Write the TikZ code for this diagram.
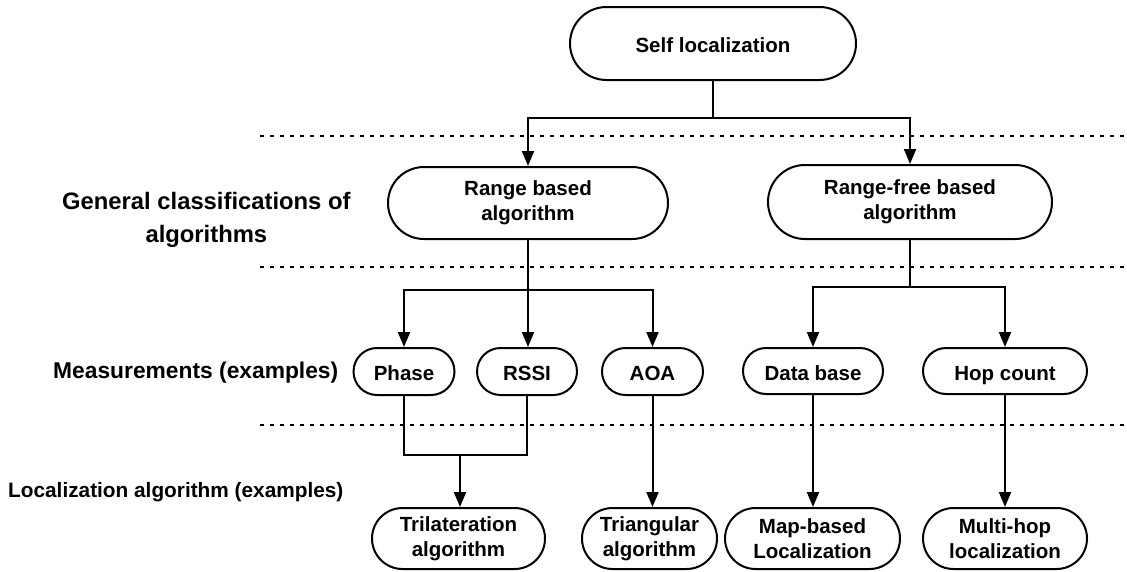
\documentclass[tikz,border=0pt]{standalone}
\usepackage{fontspec}
\setmainfont{Liberation Sans}
\usetikzlibrary{arrows.meta,positioning,calc,shapes.misc}
\begin{document}
\begin{tikzpicture}[x=1pt,y=-1pt,
  box/.style={draw,line width=2pt,rounded rectangle,inner sep=0pt,align=center,
    font=\fontsize{20.5}{25}\selectfont\bfseries},
  one/.style={text height=21pt,text depth=2.5pt},
  lab/.style={anchor=west,align=center,inner sep=0pt,font=\fontsize{23}{33}\selectfont\bfseries},
  conn/.style={line width=2pt},
  arr/.style={line width=2pt,-{Triangle[length=15pt,width=12pt]}},
  sep/.style={line width=2pt,dash pattern=on 4pt off 6pt}]
\useasboundingbox (0,0) rectangle (1127,571);
% separators
\draw[sep] (260,136) -- (1127,136);
\draw[sep] (260,267) -- (1127,267);
\draw[sep] (260,425) -- (1127,425);
% nodes
\node[box,one,minimum width=286pt,minimum height=73pt] (self) at (713,43.5) {Self localization};
\node[box,minimum width=280pt,minimum height=72pt] (rb) at (528,203) {Range based\\algorithm};
\node[box,minimum width=284pt,minimum height=74pt] (rf) at (910,202) {Range-free based\\algorithm};
\node[box,one,minimum width=101pt,minimum height=47pt] (phase) at (404,371.5) {Phase};
\node[box,one,minimum width=100pt,minimum height=47pt] (rssi) at (527,371.5) {RSSI};
\node[box,one,minimum width=101pt,minimum height=47pt] (aoa) at (652.5,371.5) {AOA};
\node[box,one,minimum width=140pt,minimum height=46pt] (db) at (813,371) {Data base};
\node[box,one,minimum width=164pt,minimum height=46pt] (hop) at (1005,371) {Hop count};
\node[box,minimum width=173pt,minimum height=61pt] (tri) at (458.5,538.5) {Trilateration\\algorithm};
\node[box,minimum width=135pt,minimum height=61pt] (triang) at (649.5,538.5) {Triangular\\algorithm};
\node[box,minimum width=175pt,minimum height=61pt] (map) at (812.5,538.5) {Map-based\\Localization};
\node[box,minimum width=164pt,minimum height=61pt] (multi) at (1005,538.5) {Multi-hop\\localization};
% left labels
\node[lab,font=\fontsize{23.8}{33}\selectfont\bfseries] (l1) at (62,220) {General classifications of\\algorithms};
\node[lab,font=\fontsize{22.8}{28}\selectfont\bfseries] (l2) at (53,373) {Measurements (examples)};
\node[lab,font=\fontsize{20.8}{26}\selectfont\bfseries] (l3) at (8,492) {Localization algorithm (examples)};
% connectors
\coordinate (j1) at (713,118);
\draw[conn] (self.south) -- (j1);
\draw[arr] (j1) -| (rb.north);
\draw[arr] (j1) -| (rf.north);
\coordinate (j2) at (528,290);
\draw[conn] (rb.south) -- (j2);
\draw[arr] (j2) -| (phase.north);
\draw[arr] (j2) -- (rssi.north -| j2);
\draw[arr] (j2) -| (aoa.north);
\coordinate (j3) at (910,287);
\draw[conn] (rf.south) -- (j3);
\draw[arr] (j3) -| (db.north);
\draw[arr] (j3) -| (hop.north);
\coordinate (j4) at (460,455);
\draw[conn] (phase.south) |- (j4);
\draw[conn] (rssi.south) |- (j4);
\draw[arr] (j4) -- (j4 |- tri.north);
\draw[arr] (aoa.south) -- (aoa.south |- triang.north);
\draw[arr] (db.south) -- (db.south |- map.north);
\draw[arr] (hop.south) -- (hop.south |- multi.north);
\end{tikzpicture}
\end{document}
